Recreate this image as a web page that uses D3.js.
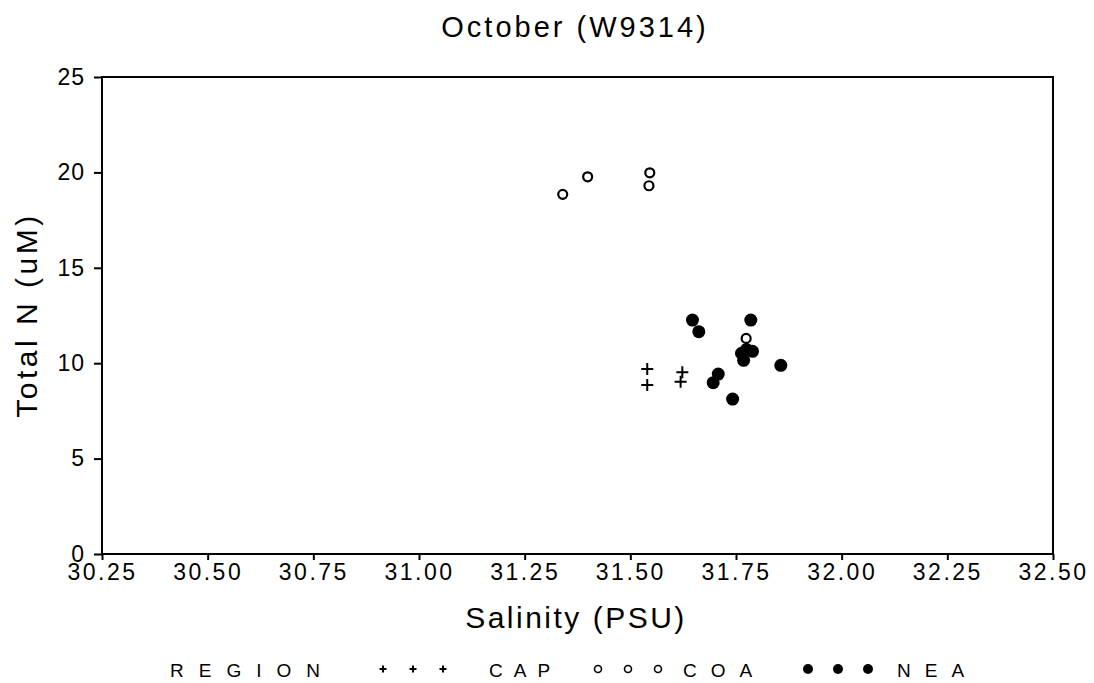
<!DOCTYPE html>
<html>
<head>
<meta charset="utf-8">
<script src="https://cdn.jsdelivr.net/npm/d3@7"></script>
<style>
  body { margin: 0; background: #fff; }
  text { font-family: "Liberation Sans", Arial, sans-serif; fill: #000; }
</style>
</head>
<body>
<div id="chart"></div>
<script>
// values
var xTicks = [30.25, 30.50, 30.75, 31.00, 31.25, 31.50, 31.75, 32.00, 32.25, 32.50];
var yTicks = [0, 5, 10, 15, 20, 25];

var capSal = [31.540, 31.540, 31.623, 31.619];
var capN   = [9.70, 8.86, 9.52, 9.03];

var coaSal = [31.340, 31.399, 31.546, 31.544, 31.774];
var coaN   = [18.85, 19.77, 19.98, 19.30, 11.30];

var neaSal = [31.647, 31.662, 31.785, 31.763, 31.789, 31.768, 31.775, 31.856, 31.708, 31.696, 31.742];
var neaN   = [12.26, 11.65, 12.26, 10.52, 10.62, 10.15, 10.72, 9.89, 9.43, 8.98, 8.12];

var legendNames = ["CAP", "COA", "NEA"];

function createChart(){
  var W = 1094, H = 683;
  var margin = {top: 77, right: 41, bottom: 129, left: 102},
      width = W - margin.left - margin.right,
      height = H - margin.top - margin.bottom;

  var svg = d3.select("#chart").append("svg")
      .attr("width", W)
      .attr("height", H);

  var g = svg.append("g")
      .attr("transform", "translate(" + margin.left + "," + margin.top + ")");

  var x = d3.scaleLinear().domain([30.25, 32.5]).range([0, width]);
  var y = d3.scaleLinear().domain([0, 25]).range([height, 0]);

  // frame
  g.append("rect")
      .attr("width", width)
      .attr("height", height)
      .style("fill", "none")
      .style("stroke", "#000")
      .style("stroke-width", 2);

  // x axis
  var xAxis = g.append("g")
      .attr("transform", "translate(0," + height + ")")
      .call(d3.axisBottom(x).tickValues(xTicks).tickFormat(d3.format(".2f")).tickSize(6).tickPadding(4));
  xAxis.select(".domain").remove();
  xAxis.selectAll("line").style("stroke-width", 2);
  xAxis.selectAll("text")
      .style("font-size", "23px")
      .style("letter-spacing", "2.5px");

  // y axis
  var yAxis = g.append("g")
      .call(d3.axisLeft(y).tickValues(yTicks).tickSize(8).tickPadding(9));
  yAxis.select(".domain").remove();
  yAxis.selectAll("line").style("stroke-width", 2);
  yAxis.selectAll("text")
      .style("font-size", "23px")
      .style("letter-spacing", "1px");

  // titles
  svg.append("text")
      .attr("x", 575).attr("y", 37)
      .attr("text-anchor", "middle")
      .style("font-size", "29px")
      .style("letter-spacing", "3px")
      .text("October (W9314)");

  svg.append("text")
      .attr("x", 576).attr("y", 628)
      .attr("text-anchor", "middle")
      .style("font-size", "30px")
      .style("letter-spacing", "2.5px")
      .text("Salinity (PSU)");

  svg.append("text")
      .attr("transform", "translate(37,315) rotate(-90)")
      .attr("text-anchor", "middle")
      .style("font-size", "30px")
      .style("letter-spacing", "3.5px")
      .text("Total N (uM)");

  // CAP: crosses
  var cap = capSal.map(function(d, i){ return {s: d, n: capN[i]}; });
  g.selectAll(".cap")
      .data(cap)
    .enter().append("path")
      .attr("class", "cap")
      .attr("transform", function(d){ return "translate(" + x(d.s) + "," + y(d.n) + ")"; })
      .attr("d", "M-6,0H6M0,-6V6")
      .style("stroke", "#000")
      .style("stroke-width", 2);

  // NEA: filled dots
  var nea = neaSal.map(function(d, i){ return {s: d, n: neaN[i]}; });
  g.selectAll(".nea")
      .data(nea)
    .enter().append("circle")
      .attr("class", "nea")
      .attr("cx", function(d){ return x(d.s); })
      .attr("cy", function(d){ return y(d.n); })
      .attr("r", 6.5)
      .style("fill", "#000");

  // COA: open circles
  var coa = coaSal.map(function(d, i){ return {s: d, n: coaN[i]}; });
  g.selectAll(".coa")
      .data(coa)
    .enter().append("circle")
      .attr("class", "coa")
      .attr("cx", function(d){ return x(d.s); })
      .attr("cy", function(d){ return y(d.n); })
      .attr("r", 4.5)
      .style("fill", "#fff")
      .style("stroke", "#000")
      .style("stroke-width", 2.2);

  // legend
  var leg = svg.append("g").attr("transform", "translate(0,669)");
  leg.append("text")
      .attr("x", 170).attr("y", 8)
      .style("font-size", "19px")
      .style("letter-spacing", "15px")
      .text("REGION");

  var symX = [383, 598, 808];
  var labX = [489, 683, 897];
  for(var k = 0; k < legendNames.length; k++){
    for(var j = 0; j < 3; j++){
      var cx = symX[k] + j * 30;
      if(k == 0){
        leg.append("path")
            .attr("d", "M" + (cx - 3.5) + ",0H" + (cx + 3.5) + "M" + cx + ",-3.5V3.5")
            .style("stroke", "#000").style("stroke-width", 2);
      } else if(k == 1){
        leg.append("circle").attr("cx", cx).attr("cy", 0).attr("r", 3.5)
            .style("fill", "none").style("stroke", "#000").style("stroke-width", 1.6);
      } else {
        leg.append("circle").attr("cx", cx).attr("cy", 0).attr("r", 5)
            .style("fill", "#000");
      }
    }
    leg.append("text")
        .attr("x", labX[k]).attr("y", 8)
        .style("font-size", "19px")
        .style("letter-spacing", k == 0 ? "11px" : "14px")
        .text(legendNames[k]);
  }
}

createChart();
</script>
</body>
</html>
